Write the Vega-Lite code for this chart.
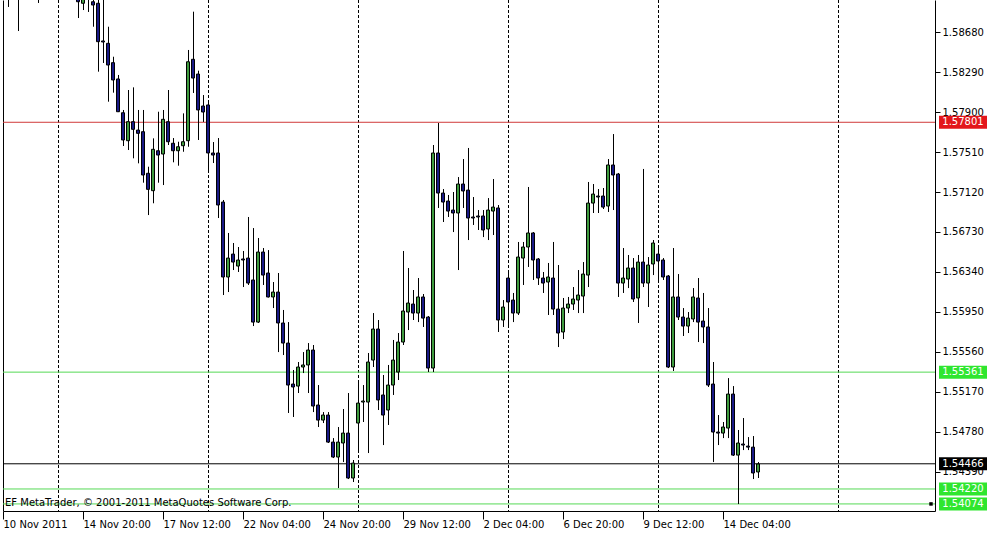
{
"$schema": "https://vega.github.io/schema/vega-lite/v6.json",
"width": 932, "height": 511,
"autosize": {"type": "none"},
"padding": {"left": 3, "top": 0, "right": 66, "bottom": 27},
"background": "white",
"config": {"view": {"stroke": null}, "font": "DejaVu Sans", "scale": {"continuousPadding": 0}},
"datasets": {
"bars": [
{"i":1,"o":1.59239,"h":1.59288,"l":1.58927,"c":1.59142},
{"i":3,"o":1.59190,"h":1.59239,"l":1.58692,"c":1.59093},
{"i":7,"o":1.59142,"h":1.59190,"l":1.58966,"c":1.59073},
{"i":15,"o":1.59112,"h":1.59190,"l":1.58819,"c":1.58978},
{"i":16,"o":1.58963,"h":1.59142,"l":1.58897,"c":1.59073},
{"i":17,"o":1.59112,"h":1.59142,"l":1.58878,"c":1.59034},
{"i":18,"o":1.58978,"h":1.59054,"l":1.58734,"c":1.58946},
{"i":19,"o":1.58963,"h":1.59024,"l":1.58295,"c":1.58588},
{"i":20,"o":1.58595,"h":1.58995,"l":1.58380,"c":1.58585},
{"i":21,"o":1.58572,"h":1.58734,"l":1.58002,"c":1.58360},
{"i":22,"o":1.58383,"h":1.58441,"l":1.58090,"c":1.58214},
{"i":23,"o":1.58224,"h":1.58263,"l":1.57901,"c":1.57904},
{"i":24,"o":1.57894,"h":1.57921,"l":1.57569,"c":1.57628},
{"i":25,"o":1.57621,"h":1.58116,"l":1.57530,"c":1.57807},
{"i":26,"o":1.57807,"h":1.58142,"l":1.57449,"c":1.57732},
{"i":27,"o":1.57725,"h":1.57921,"l":1.57400,"c":1.57693},
{"i":28,"o":1.57709,"h":1.57921,"l":1.57211,"c":1.57286},
{"i":29,"o":1.57303,"h":1.57367,"l":1.56895,"c":1.57146},
{"i":30,"o":1.57133,"h":1.57644,"l":1.57010,"c":1.57537},
{"i":31,"o":1.57523,"h":1.57904,"l":1.57211,"c":1.57481},
{"i":32,"o":1.57491,"h":1.57921,"l":1.57188,"c":1.57830},
{"i":33,"o":1.57807,"h":1.58116,"l":1.57579,"c":1.57611},
{"i":34,"o":1.57596,"h":1.57647,"l":1.57410,"c":1.57523},
{"i":35,"o":1.57523,"h":1.57611,"l":1.57377,"c":1.57562},
{"i":36,"o":1.57572,"h":1.57888,"l":1.57513,"c":1.57611},
{"i":37,"o":1.57621,"h":1.58507,"l":1.57562,"c":1.58392},
{"i":38,"o":1.58416,"h":1.58881,"l":1.58087,"c":1.58233},
{"i":39,"o":1.58272,"h":1.58305,"l":1.57628,"c":1.57921},
{"i":40,"o":1.57960,"h":1.58067,"l":1.57804,"c":1.57901},
{"i":41,"o":1.57970,"h":1.58018,"l":1.57335,"c":1.57501},
{"i":42,"o":1.57501,"h":1.57608,"l":1.57403,"c":1.57481},
{"i":43,"o":1.57501,"h":1.57647,"l":1.56866,"c":1.56993},
{"i":44,"o":1.57022,"h":1.57042,"l":1.56114,"c":1.56290},
{"i":45,"o":1.56290,"h":1.56720,"l":1.56143,"c":1.56475},
{"i":46,"o":1.56514,"h":1.56622,"l":1.56358,"c":1.56436},
{"i":47,"o":1.56397,"h":1.56583,"l":1.56339,"c":1.56456},
{"i":48,"o":1.56466,"h":1.56544,"l":1.56192,"c":1.56456},
{"i":49,"o":1.56475,"h":1.56876,"l":1.56212,"c":1.56231},
{"i":50,"o":1.56261,"h":1.56768,"l":1.55811,"c":1.55850},
{"i":51,"o":1.55850,"h":1.56671,"l":1.55841,"c":1.56534},
{"i":52,"o":1.56534,"h":1.56573,"l":1.56212,"c":1.56309},
{"i":53,"o":1.56329,"h":1.56553,"l":1.56090,"c":1.56095},
{"i":54,"o":1.56095,"h":1.56241,"l":1.55987,"c":1.56143},
{"i":55,"o":1.56143,"h":1.56329,"l":1.55557,"c":1.55841},
{"i":56,"o":1.55841,"h":1.55968,"l":1.55528,"c":1.55645},
{"i":57,"o":1.55645,"h":1.55850,"l":1.54962,"c":1.55235},
{"i":58,"o":1.55245,"h":1.55382,"l":1.54923,"c":1.55216},
{"i":59,"o":1.55225,"h":1.55460,"l":1.55157,"c":1.55411},
{"i":60,"o":1.55411,"h":1.55557,"l":1.55352,"c":1.55431},
{"i":61,"o":1.55431,"h":1.55645,"l":1.55157,"c":1.55577},
{"i":62,"o":1.55577,"h":1.55626,"l":1.54971,"c":1.55030},
{"i":63,"o":1.55040,"h":1.55235,"l":1.54825,"c":1.54893},
{"i":64,"o":1.54893,"h":1.54971,"l":1.54864,"c":1.54942},
{"i":65,"o":1.54942,"h":1.54971,"l":1.54669,"c":1.54678},
{"i":66,"o":1.54678,"h":1.54717,"l":1.54522,"c":1.54532},
{"i":67,"o":1.54532,"h":1.54825,"l":1.54229,"c":1.54678},
{"i":68,"o":1.54669,"h":1.55001,"l":1.54483,"c":1.54766},
{"i":69,"o":1.54766,"h":1.55157,"l":1.54317,"c":1.54327},
{"i":70,"o":1.54327,"h":1.54503,"l":1.54288,"c":1.54473},
{"i":71,"o":1.54864,"h":1.55255,"l":1.54600,"c":1.55059},
{"i":72,"o":1.55069,"h":1.55235,"l":1.54874,"c":1.55079},
{"i":73,"o":1.55069,"h":1.55548,"l":1.54571,"c":1.55460},
{"i":74,"o":1.55479,"h":1.55938,"l":1.55411,"c":1.55782},
{"i":75,"o":1.55782,"h":1.55870,"l":1.54991,"c":1.55089},
{"i":76,"o":1.55138,"h":1.55333,"l":1.54649,"c":1.54942},
{"i":77,"o":1.54991,"h":1.55431,"l":1.54845,"c":1.55235},
{"i":78,"o":1.55235,"h":1.55675,"l":1.55138,"c":1.55479},
{"i":79,"o":1.55362,"h":1.55743,"l":1.55284,"c":1.55655},
{"i":80,"o":1.55655,"h":1.56544,"l":1.55626,"c":1.55958},
{"i":81,"o":1.55948,"h":1.56378,"l":1.55772,"c":1.56036},
{"i":82,"o":1.56026,"h":1.56163,"l":1.55870,"c":1.55938},
{"i":83,"o":1.55938,"h":1.56280,"l":1.55850,"c":1.56095},
{"i":84,"o":1.56095,"h":1.56124,"l":1.55802,"c":1.55889},
{"i":85,"o":1.55899,"h":1.55909,"l":1.55362,"c":1.55401},
{"i":86,"o":1.55401,"h":1.57579,"l":1.55362,"c":1.57501},
{"i":87,"o":1.57501,"h":1.57794,"l":1.56964,"c":1.57110},
{"i":88,"o":1.57110,"h":1.57149,"l":1.56827,"c":1.57022},
{"i":89,"o":1.57032,"h":1.57091,"l":1.56876,"c":1.56934},
{"i":90,"o":1.56944,"h":1.57120,"l":1.56729,"c":1.56915},
{"i":91,"o":1.56915,"h":1.57266,"l":1.56358,"c":1.57198},
{"i":92,"o":1.57198,"h":1.57442,"l":1.56964,"c":1.57130},
{"i":93,"o":1.57139,"h":1.57550,"l":1.56651,"c":1.56866},
{"i":94,"o":1.56876,"h":1.57071,"l":1.56798,"c":1.56866},
{"i":95,"o":1.56886,"h":1.56944,"l":1.56749,"c":1.56876},
{"i":96,"o":1.56886,"h":1.56944,"l":1.56680,"c":1.56749},
{"i":97,"o":1.56759,"h":1.57061,"l":1.56651,"c":1.56944},
{"i":98,"o":1.56934,"h":1.57247,"l":1.56700,"c":1.56973},
{"i":99,"o":1.56964,"h":1.56993,"l":1.55753,"c":1.55870},
{"i":100,"o":1.55870,"h":1.56065,"l":1.55802,"c":1.55997},
{"i":101,"o":1.56280,"h":1.56329,"l":1.55802,"c":1.56046},
{"i":102,"o":1.56065,"h":1.56134,"l":1.55850,"c":1.55938},
{"i":103,"o":1.55938,"h":1.56632,"l":1.55919,"c":1.56485},
{"i":104,"o":1.56475,"h":1.56632,"l":1.56212,"c":1.56583},
{"i":105,"o":1.56583,"h":1.57169,"l":1.56388,"c":1.56720},
{"i":106,"o":1.56720,"h":1.56729,"l":1.56261,"c":1.56456},
{"i":107,"o":1.56466,"h":1.56475,"l":1.56212,"c":1.56280},
{"i":108,"o":1.56280,"h":1.56339,"l":1.56134,"c":1.56231},
{"i":109,"o":1.56241,"h":1.56427,"l":1.55919,"c":1.56290},
{"i":110,"o":1.56280,"h":1.56632,"l":1.55919,"c":1.55977},
{"i":111,"o":1.55977,"h":1.56407,"l":1.55606,"c":1.55743},
{"i":112,"o":1.55753,"h":1.56085,"l":1.55684,"c":1.55987},
{"i":113,"o":1.55987,"h":1.56095,"l":1.55938,"c":1.56026},
{"i":114,"o":1.56026,"h":1.56192,"l":1.55968,"c":1.56075},
{"i":115,"o":1.56065,"h":1.56358,"l":1.55938,"c":1.56114},
{"i":116,"o":1.56104,"h":1.56436,"l":1.55938,"c":1.56319},
{"i":117,"o":1.56309,"h":1.57218,"l":1.56192,"c":1.57012},
{"i":118,"o":1.57012,"h":1.57198,"l":1.56915,"c":1.57100},
{"i":119,"o":1.57081,"h":1.57149,"l":1.56915,"c":1.57071},
{"i":120,"o":1.57081,"h":1.57159,"l":1.56954,"c":1.56973},
{"i":121,"o":1.56983,"h":1.57442,"l":1.56925,"c":1.57384},
{"i":122,"o":1.57384,"h":1.57686,"l":1.56944,"c":1.57286},
{"i":123,"o":1.57296,"h":1.57306,"l":1.56095,"c":1.56231},
{"i":124,"o":1.56231,"h":1.56573,"l":1.56134,"c":1.56280},
{"i":125,"o":1.56270,"h":1.56505,"l":1.56182,"c":1.56378},
{"i":126,"o":1.56378,"h":1.56475,"l":1.56046,"c":1.56075},
{"i":127,"o":1.56085,"h":1.56505,"l":1.55841,"c":1.56436},
{"i":128,"o":1.56436,"h":1.57345,"l":1.56192,"c":1.56231},
{"i":129,"o":1.56231,"h":1.56485,"l":1.55997,"c":1.56407},
{"i":130,"o":1.56417,"h":1.56651,"l":1.56309,"c":1.56622},
{"i":131,"o":1.56514,"h":1.56573,"l":1.56261,"c":1.56446},
{"i":132,"o":1.56456,"h":1.56475,"l":1.56261,"c":1.56290},
{"i":133,"o":1.56300,"h":1.56309,"l":1.55401,"c":1.55411},
{"i":134,"o":1.55411,"h":1.56573,"l":1.55372,"c":1.56095},
{"i":135,"o":1.56095,"h":1.56319,"l":1.55870,"c":1.55899},
{"i":136,"o":1.55899,"h":1.55987,"l":1.55714,"c":1.55811},
{"i":137,"o":1.55811,"h":1.55948,"l":1.55743,"c":1.55889},
{"i":138,"o":1.55880,"h":1.56182,"l":1.55850,"c":1.56095},
{"i":139,"o":1.56085,"h":1.56280,"l":1.55655,"c":1.55850},
{"i":140,"o":1.55860,"h":1.56134,"l":1.55645,"c":1.55802},
{"i":141,"o":1.55802,"h":1.55987,"l":1.55216,"c":1.55235},
{"i":142,"o":1.55245,"h":1.55460,"l":1.54483,"c":1.54776},
{"i":143,"o":1.54776,"h":1.54942,"l":1.54649,"c":1.54766},
{"i":144,"o":1.54766,"h":1.54874,"l":1.54717,"c":1.54825},
{"i":145,"o":1.54815,"h":1.55303,"l":1.54717,"c":1.55147},
{"i":146,"o":1.55147,"h":1.55225,"l":1.54542,"c":1.54551},
{"i":147,"o":1.54551,"h":1.54796,"l":1.54073,"c":1.54669},
{"i":148,"o":1.54659,"h":1.54913,"l":1.54600,"c":1.54649},
{"i":149,"o":1.54639,"h":1.54727,"l":1.54600,"c":1.54629},
{"i":150,"o":1.54629,"h":1.54737,"l":1.54317,"c":1.54376},
{"i":151,"o":1.54386,"h":1.54483,"l":1.54327,"c":1.54464}
],
"levels": [
{"p":1.57801,"type":"resistance"},
{"p":1.55361,"type":"support"},
{"p":1.54466,"type":"bid"},
{"p":1.54220,"type":"support"},
{"p":1.54074,"type":"support"}
],
"seps": [{"i":11},{"i":41},{"i":71},{"i":101},{"i":131},{"i":167}],
"notes": [{"i":0.4,"p":1.54088,"t":"EF MetaTrader, © 2001-2011 MetaQuotes Software Corp."}],
"marker": [{"i":185.6,"p":1.54074}]
},
"resolve": {"axis": {"x": "independent", "y": "independent"}},
"layer": [
{
"data": {"name": "seps"},
"mark": {"type": "rule", "color": "#000", "strokeWidth": 1, "strokeDash": [3, 2], "xOffset": 0.5},
"encoding": {
"x": {"field": "i", "type": "quantitative", "scale": {"domain": [0, 186.4], "nice": false, "zero": false, "padding": 0},
"axis": {"orient": "bottom", "values": [0,16,32,48,64,80,96,112,128,144],
"labelExpr": "['10 Nov 2011','14 Nov 20:00','17 Nov 12:00','22 Nov 04:00','24 Nov 20:00','29 Nov 12:00','2 Dec 04:00','6 Dec 20:00','9 Dec 12:00','14 Dec 04:00'][round(datum.value/16)]",
"labelAlign": "left", "labelBaseline": "top", "labelDx": 1, "tickSize": 8, "labelPadding": 0,
"labelFlush": false, "labelOverlap": false, "labelFont": "DejaVu Sans", "labelFontSize": 10, "labelColor": "#000",
"domainColor": "#000", "tickColor": "#000", "grid": false, "title": null}}
}
},
{
"data": {"name": "levels"},
"mark": {"type": "rule", "strokeWidth": 1},
"encoding": {
"y": {"field": "p", "type": "quantitative", "scale": {"domain": [1.54005, 1.58995], "nice": false, "zero": false, "padding": 0}, "axis": null},
"color": {"condition": [{"test": "datum.type == 'resistance'", "value": "#d03a3a"}, {"test": "datum.type == 'bid'", "value": "#000000"}], "value": "#55d955"}
}
},
{
"data": {"name": "bars"},
"mark": {"type": "rule", "color": "#000", "strokeWidth": 1, "xOffset": 0.5, "clip": true},
"encoding": {
"x": {"field": "i", "type": "quantitative", "scale": {"domain": [0, 186.4], "nice": false, "zero": false, "padding": 0}, "axis": null},
"y": {"field": "l", "type": "quantitative", "scale": {"domain": [1.54005, 1.58995], "nice": false, "zero": false, "padding": 0},
"axis": {"orient": "left", "labels": false, "ticks": false, "domain": true, "domainColor": "#000", "grid": false, "title": null}},
"y2": {"field": "h"}
}
},
{
"data": {"name": "bars"},
"mark": {"type": "bar", "width": 3, "stroke": "#000", "strokeWidth": 1, "clip": true},
"encoding": {
"x": {"field": "i", "type": "quantitative", "scale": {"domain": [0, 186.4], "nice": false, "zero": false, "padding": 0}, "axis": null},
"y": {"field": "o", "type": "quantitative", "scale": {"domain": [1.54005, 1.58995], "nice": false, "zero": false, "padding": 0},
"axis": {"orient": "right", "values": [1.5439,1.5478,1.5517,1.5556,1.5595,1.5634,1.5673,1.5712,1.5751,1.579,1.5829,1.5868],
"format": ".5f", "tickSize": 5, "labelPadding": 2, "domain": true, "domainColor": "#000", "tickColor": "#000",
"labelFont": "DejaVu Sans", "labelFontSize": 10, "labelColor": "#000", "grid": false, "title": null, "labelFlush": false, "labelOverlap": false}},
"y2": {"field": "c"},
"fill": {"condition": {"test": "datum.c > datum.o", "value": "#3f9b3f"}, "value": "#191987"}
}
},
{
"data": {"name": "levels"},
"mark": {"type": "rect", "yOffset": -6.5, "y2Offset": 6.5},
"encoding": {
"x": {"datum": 187.2, "type": "quantitative", "scale": {"domain": [0, 186.4], "nice": false, "zero": false, "padding": 0}, "axis": null},
"x2": {"datum": 196.8},
"y": {"field": "p", "type": "quantitative", "scale": {"domain": [1.54005, 1.58995], "nice": false, "zero": false, "padding": 0}, "axis": null},
"y2": {"field": "p"},
"fill": {"condition": [{"test": "datum.type == 'resistance'", "value": "#e3161b"}, {"test": "datum.type == 'bid'", "value": "#000000"}], "value": "#2fe62f"}
}
},
{
"data": {"name": "levels"},
"mark": {"type": "text", "color": "#ffffff", "font": "DejaVu Sans", "fontSize": 10, "align": "center", "baseline": "middle"},
"encoding": {
"x": {"datum": 192, "type": "quantitative", "scale": {"domain": [0, 186.4], "nice": false, "zero": false, "padding": 0}, "axis": null},
"y": {"field": "p", "type": "quantitative", "scale": {"domain": [1.54005, 1.58995], "nice": false, "zero": false, "padding": 0}, "axis": null},
"text": {"field": "p", "type": "quantitative", "format": ".5f"}
}
},
{
"data": {"name": "notes"},
"mark": {"type": "text", "color": "#000", "font": "DejaVu Sans", "fontSize": 10, "align": "left", "baseline": "middle"},
"encoding": {
"x": {"field": "i", "type": "quantitative", "scale": {"domain": [0, 186.4], "nice": false, "zero": false, "padding": 0}, "axis": null},
"y": {"field": "p", "type": "quantitative", "scale": {"domain": [1.54005, 1.58995], "nice": false, "zero": false, "padding": 0}, "axis": null},
"text": {"field": "t", "type": "nominal"}
}
},
{
"data": {"name": "marker"},
"mark": {"type": "point", "shape": "square", "filled": true, "color": "#000", "size": 12, "opacity": 1},
"encoding": {
"x": {"field": "i", "type": "quantitative", "scale": {"domain": [0, 186.4], "nice": false, "zero": false, "padding": 0}, "axis": null},
"y": {"field": "p", "type": "quantitative", "scale": {"domain": [1.54005, 1.58995], "nice": false, "zero": false, "padding": 0}, "axis": null}
}
}
]
}
